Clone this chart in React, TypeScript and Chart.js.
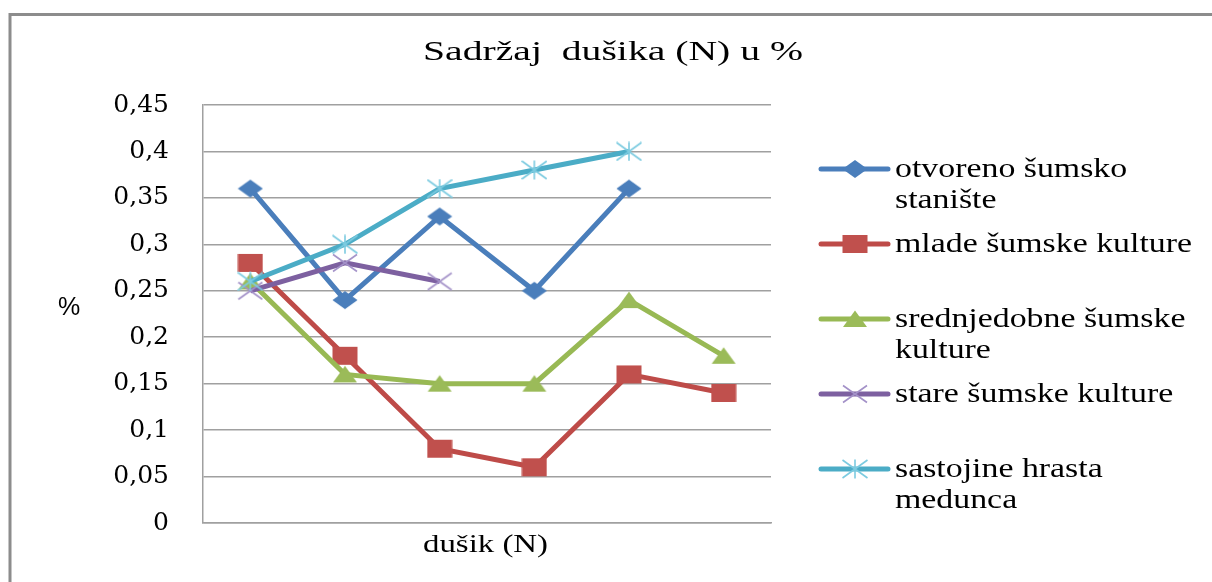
import { useEffect, useRef } from "react";
import { Chart, registerables } from "chart.js";

Chart.register(...registerables);

// ---------- data ----------
const categories = ["", "", "", "", "", ""];
const legendLabelLines: string[][] = [
  ["otvoreno šumsko", "stanište"],
  ["mlade šumske kulture"],
  ["srednjedobne šumske", "kulture"],
  ["stare šumske kulture"],
  ["sastojine hrasta", "medunca"],
];
const otvorenoStaniste = [0.36, 0.24, 0.33, 0.25, 0.36, null];
const mladeKulture = [0.28, 0.18, 0.08, 0.06, 0.16, 0.14];
const srednjedobneKulture = [0.26, 0.16, 0.15, 0.15, 0.24, 0.18];
const stareKulture = [0.25, 0.28, 0.26, null, null, null];
const hrastMedunac = [0.26, 0.3, 0.36, 0.38, 0.4, null];
const yTickLabels = ["0", "0,05", "0,1", "0,15", "0,2", "0,25", "0,3", "0,35", "0,4", "0,45"];
const chartTitle = "Sadržaj  dušika (N) u %";
const xAxisTitle = "dušik (N)";
const yAxisTitle = "%";

// ---------- styles ----------
const lineColors = ["#4A7EBB", "#BE4B48", "#98B954", "#7D60A0", "#4BACC6"];
const markerColors = ["#4A7EBB", "#C0504D", "#9BBB59", "#A391C8", "#7CCBE0"];
const markerKinds = ["diamond", "square", "triangle", "x", "star"];

function makeMarker(kind: string, color: string): HTMLCanvasElement {
  const c = document.createElement("canvas");
  const w = 26, h = 20;
  c.width = w;
  c.height = h;
  const ctx = c.getContext("2d")!;
  const cx = w / 2, cy = h / 2;
  ctx.fillStyle = color;
  ctx.strokeStyle = color;
  if (kind === "diamond") {
    const hw = 12.5, hh = 9;
    ctx.beginPath();
    ctx.moveTo(cx, cy - hh);
    ctx.lineTo(cx + hw, cy);
    ctx.lineTo(cx, cy + hh);
    ctx.lineTo(cx - hw, cy);
    ctx.closePath();
    ctx.fill();
  } else if (kind === "square") {
    ctx.fillRect(cx - 12.5, cy - 9, 25, 18);
  } else if (kind === "triangle") {
    ctx.beginPath();
    ctx.moveTo(cx, cy - 8.5);
    ctx.lineTo(cx + 12, cy + 8);
    ctx.lineTo(cx - 12, cy + 8);
    ctx.closePath();
    ctx.fill();
  } else if (kind === "x") {
    ctx.lineWidth = 1.6;
    ctx.beginPath();
    ctx.moveTo(cx - 12, cy - 8.5);
    ctx.lineTo(cx + 12, cy + 8.5);
    ctx.moveTo(cx + 12, cy - 8.5);
    ctx.lineTo(cx - 12, cy + 8.5);
    ctx.stroke();
  } else {
    ctx.lineWidth = 1.6;
    ctx.beginPath();
    ctx.moveTo(cx - 12.5, cy - 9);
    ctx.lineTo(cx + 12.5, cy + 9);
    ctx.moveTo(cx + 12.5, cy - 9);
    ctx.lineTo(cx - 12.5, cy + 9);
    ctx.moveTo(cx, cy - 9.5);
    ctx.lineTo(cx, cy + 9.5);
    ctx.stroke();
  }
  return c;
}

function drawStretched(
  ctx: CanvasRenderingContext2D,
  text: string,
  x: number,
  y: number,
  font: string,
  sx: number
) {
  ctx.save();
  ctx.font = font;
  ctx.textAlign = "left";
  ctx.textBaseline = "alphabetic";
  ctx.fillStyle = "#000";
  ctx.translate(x, y);
  ctx.scale(sx, 1);
  ctx.fillText(text, 0, 0);
  ctx.restore();
}

export default function App() {
  const ref = useRef<HTMLCanvasElement>(null);

  useEffect(() => {
    document.body.style.margin = "0";
    const markers = markerKinds.map((k, i) => makeMarker(k, markerColors[i]));
    const series = [otvorenoStaniste, mladeKulture, srednjedobneKulture, stareKulture, hrastMedunac];

    const decorations = {
      id: "decorations",
      afterDraw(chart: any) {
        const ctx: CanvasRenderingContext2D = chart.ctx;
        // outer frame
        ctx.save();
        ctx.strokeStyle = "#8c8c8c";
        ctx.lineWidth = 3;
        ctx.beginPath();
        ctx.moveTo(10, 582);
        ctx.lineTo(10, 14.5);
        ctx.lineTo(1212, 14.5);
        ctx.stroke();
        ctx.restore();

        // title
        const titleFont = "27px 'Liberation Serif'";
        ctx.font = titleFont;
        const tw = ctx.measureText(chartTitle).width;
        drawStretched(ctx, chartTitle, 423, 60, titleFont, 380 / tw);

        // x-axis title
        const xFont = "26px 'Liberation Serif'";
        ctx.font = xFont;
        const xw = ctx.measureText(xAxisTitle).width;
        drawStretched(ctx, xAxisTitle, 423, 552, xFont, 125 / xw);

        // y-axis title
        ctx.save();
        ctx.font = "25px 'Liberation Sans'";
        ctx.fillStyle = "#000";
        ctx.textAlign = "left";
        ctx.textBaseline = "alphabetic";
        ctx.fillText(yAxisTitle, 58, 315);
        ctx.restore();

        // legend
        const legFont = "27px 'Liberation Serif'";
        ctx.font = legFont;
        const refW = ctx.measureText("mlade šumske kulture").width;
        const lsx = 297 / refW;
        legendLabelLines.forEach((lines, i) => {
          const base = 177 + 75 * i;
          const ly = base - 8;
          ctx.save();
          ctx.strokeStyle = lineColors[i];
          ctx.lineWidth = 5;
          ctx.lineCap = "round";
          ctx.beginPath();
          ctx.moveTo(821, ly);
          ctx.lineTo(888, ly);
          ctx.stroke();
          ctx.restore();
          const m = markers[i];
          ctx.drawImage(m, 855 - m.width / 2, ly - m.height / 2);
          lines.forEach((t, j) => {
            drawStretched(ctx, t, 895, base + 31 * j, legFont, lsx);
          });
        });
      },
    };

    const chart = new Chart(ref.current!, {
      type: "line",
      data: {
        labels: categories,
        datasets: series.map((d, i) => ({
          label: legendLabelLines[i].join(" "),
          data: d,
          borderColor: lineColors[i],
          backgroundColor: lineColors[i],
          borderWidth: 5,
          pointStyle: markers[i],
          pointRadius: 8,
          pointHoverRadius: 8,
          fill: false,
          tension: 0,
          spanGaps: false,
          order: 5 - i,
        })),
      },
      options: {
        responsive: false,
        animation: false,
        layout: { padding: { left: 0, right: 441, top: 105, bottom: 59 } },
        plugins: {
          legend: { display: false },
          title: { display: false },
          tooltip: { enabled: false },
        },
        scales: {
          x: {
            type: "category",
            offset: true,
            grid: { display: false, drawTicks: false },
            border: { display: true, color: "#a0a0a0", width: 1.5 },
            ticks: { display: false },
            afterFit: (s: any) => {
              s.height = 0;
            },
          },
          y: {
            min: 0,
            max: 0.45,
            ticks: {
              stepSize: 0.05,
              padding: 34,
              color: "#000",
              font: { family: "'DejaVu Serif'", size: 25 },
              callback: (v: any) => {
                const idx = Math.round(Number(v) / 0.05);
                return yTickLabels[idx] ?? "";
              },
            },
            grid: { color: "#a0a0a0", lineWidth: 1.5, drawTicks: false },
            border: { display: true, color: "#a0a0a0", width: 1.5 },
            afterFit: (s: any) => {
              s.width = 203;
            },
          },
        },
      },
      plugins: [decorations],
    });
    if ((document as any).fonts && (document as any).fonts.ready) {
      (document as any).fonts.ready.then(() => {
        try {
          chart.draw();
        } catch (e) {
          /* chart destroyed */
        }
      });
    }
    return () => chart.destroy();
  }, []);

  return (
    <div style={{ position: "fixed", left: 0, top: 0, width: 1212, height: 582, background: "#fff" }}>
      <canvas ref={ref} width={1212} height={582} />
    </div>
  );
}
